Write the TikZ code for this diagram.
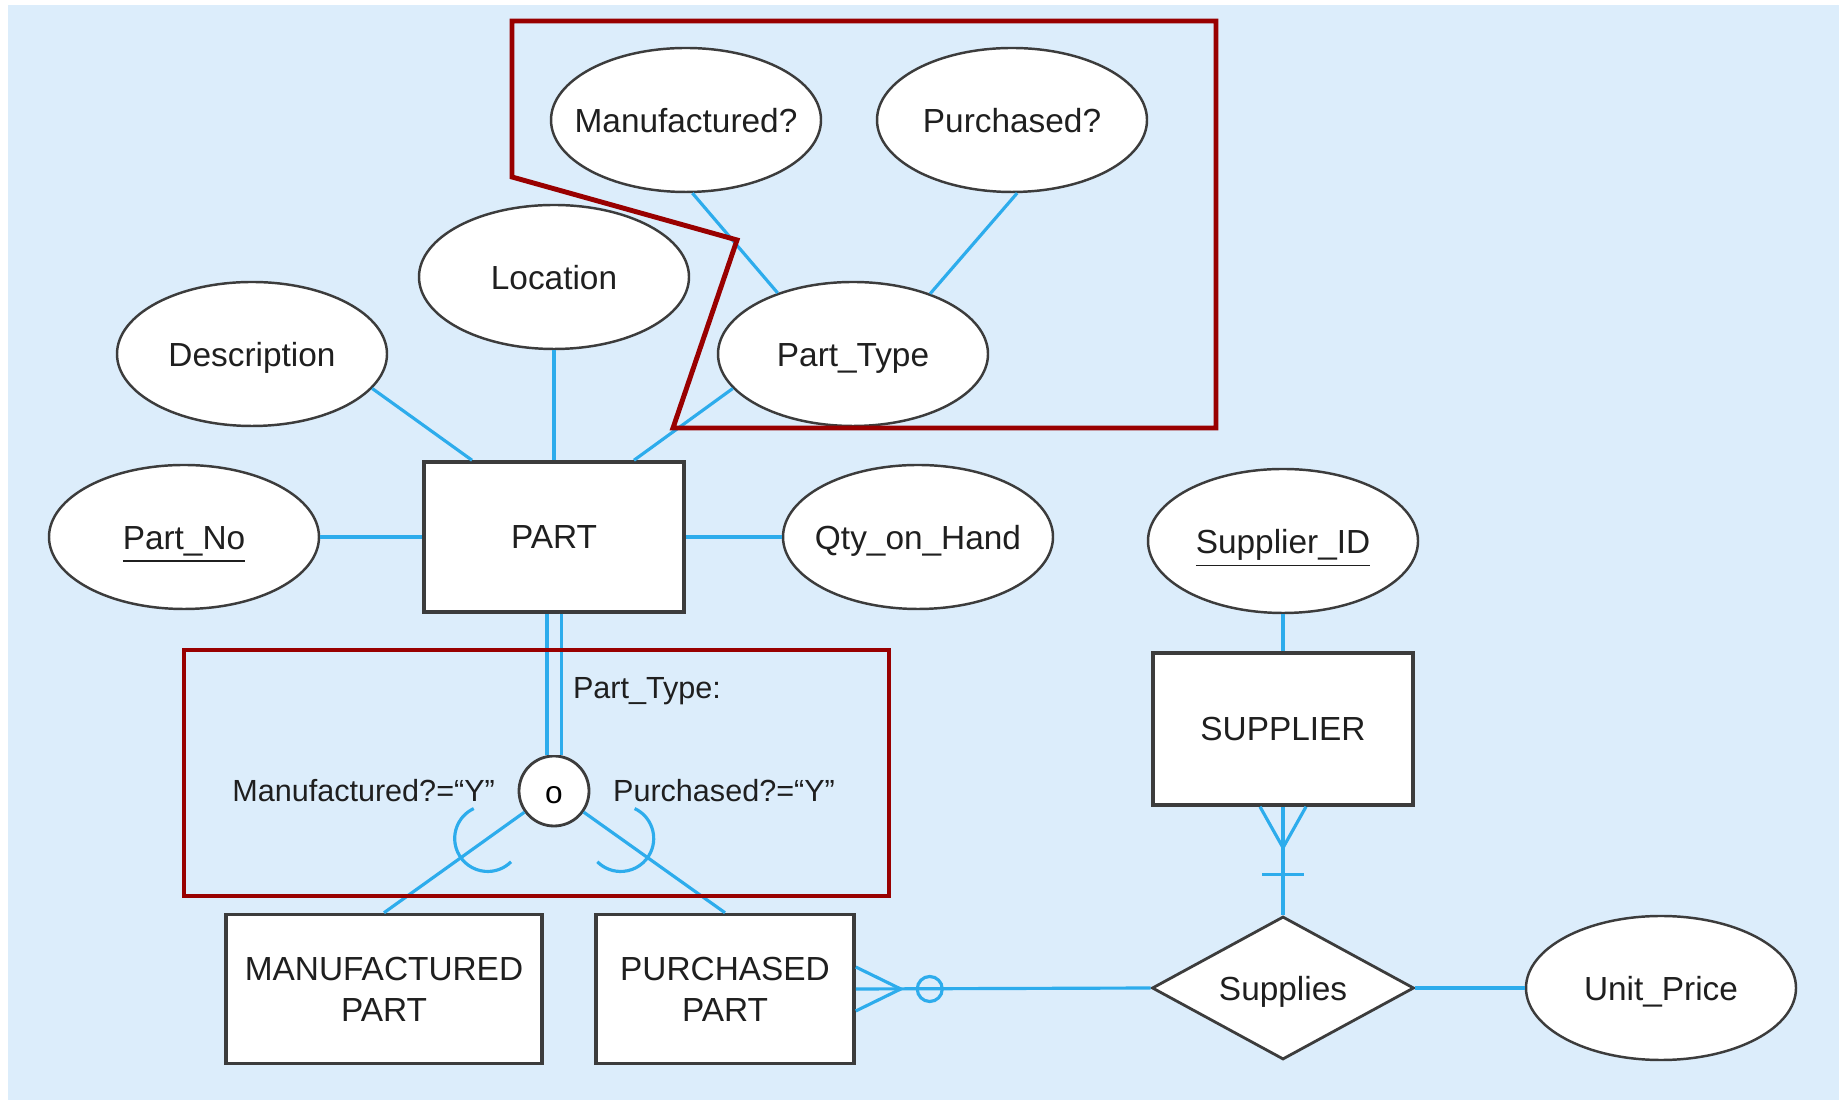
\documentclass[tikz,border=0pt]{standalone}
\usepackage{fontspec}
\setmainfont{Liberation Sans}
\usetikzlibrary{positioning, shapes.geometric, calc}
\definecolor{bgblue}{RGB}{220,237,251}
\definecolor{lnblue}{RGB}{45,172,236}
\definecolor{frred}{RGB}{153,0,0}
\definecolor{edgegray}{RGB}{60,60,60}

\begin{document}
\begin{tikzpicture}[
  attr/.style={ellipse, draw=edgegray, line width=0.7pt, fill=white, minimum width=2.7cm, minimum height=1.44cm, inner ysep=0pt, inner xsep=-0.3cm, text height=0.72em, text depth=0pt, text=black!88, font=\fontsize{9.5}{11.6}\selectfont},
  entity/.style={rectangle, draw=edgegray, line width=1pt, fill=white, minimum width=2.6cm, minimum height=1.5cm, align=center, text=black!88, font=\fontsize{9.5}{11.6}\selectfont},
  rel/.style={diamond, aspect=1.8, draw=edgegray, line width=0.8pt, fill=white, minimum width=2.62cm, minimum height=1.43cm, inner sep=0pt, text height=0.72em, text depth=0pt, text=black!88, font=\fontsize{9.5}{11.6}\selectfont},
  subc/.style={circle, draw=edgegray, line width=0.8pt, fill=white, minimum size=0.7cm, inner sep=0pt, text height=0.72em, text depth=0pt, font=\fontsize{9}{10}\selectfont},
  lbl/.style={inner sep=0pt, text=black!88, font=\fontsize{8.7}{10}\selectfont},
  conn/.style={lnblue, line width=0.9pt},
  frame/.style={draw=frred, line width=1.4pt},
  node distance=0.22cm
]
\useasboundingbox (0,0) rectangle (18.39,-11.04);
\fill[bgblue] (0.08,-0.05) rectangle (18.39,-11.00);

\node[attr] (manf)   at (6.86,-1.20) {Manufactured?};
\node[attr] (purch)  at (10.12,-1.20) {Purchased?};
\node[attr] (loc)    at (5.54,-2.77) {Location};
\node[attr] (desc)   at (2.52,-3.54) {Description};
\node[attr] (ptype)  at (8.53,-3.54) {Part\_Type};
\node[attr] (pno)    at (1.84,-5.37) {\underline{Part\_No}};
\node[entity] (part) at (5.54,-5.37) {PART};
\node[attr] (qty)    at (9.18,-5.37) {Qty\_on\_Hand};
\node[attr] (sid)    at (12.83,-5.41) {\underline{Supplier\_ID}};
\node[entity, minimum height=1.52cm] (supplier) at (12.83,-7.29) {SUPPLIER};

\node[subc] (sub) at (5.54,-7.91) {o};
\node[lbl, left=of sub]  (mlbl) {Manufactured?=“Y”};
\node[lbl, right=of sub] (plbl) {Purchased?=“Y”};
\node[lbl] (tlbl) at (6.47,-6.91) {Part\_Type:};

\node[entity, minimum width=3.16cm, minimum height=1.49cm] (mfg) at (3.84,-9.89) {MANUFACTURED\\PART};
\node[entity, minimum width=2.58cm, minimum height=1.49cm] (pur) at (7.25,-9.89) {PURCHASED\\PART};
\node[rel] (supplies) at (12.83,-9.88) {Supplies};
\node[attr] (uprice) at (16.61,-9.88) {Unit\_Price};

\draw[conn] (manf.-85) -- (ptype.141);
\draw[conn] (purch.-86) -- (ptype.38);
\draw[conn] (desc.-16) -- ([xshift=-0.82cm]part.north);
\draw[conn] (loc) -- (part);
\draw[conn] (ptype.196) -- ([xshift=0.80cm]part.north);
\draw[conn] (pno) -- (part);
\draw[conn] (part) -- (qty);
\draw[conn] (sid) -- (supplier);

\draw[conn, double=bgblue, double distance=0.11cm] (part.south) -- (sub.north);
\draw[conn] (sub) -- (mfg.north);
\draw[conn] (sub) -- (pur.north);
\draw[conn] ($(sub)!0.39!(mfg.north)$) ++(115:0.33) arc[start angle=115, end angle=315, radius=0.33cm];
\draw[conn] ($(sub)!0.39!(pur.north)$) ++(65:0.33) arc[start angle=65, end angle=-135, radius=0.33cm];

\draw[conn] (supplier) -- (supplies);
\draw[conn] ([xshift=-0.23cm]supplier.south) -- ([yshift=-0.41cm]supplier.south) -- ([xshift=0.23cm]supplier.south);
\draw[conn] ([xshift=-0.21cm, yshift=-0.68cm]supplier.south) -- ++(0.42,0);

\draw[conn] (pur.east) -- (supplies.west);
\draw[conn] ([yshift=0.22cm]pur.east) -- ([xshift=0.45cm]pur.east) -- ([yshift=-0.22cm]pur.east);
\draw[conn] ([xshift=0.74cm]pur.east) circle[radius=0.125cm];
\draw[conn] (supplies) -- (uprice);

\draw[frame] (5.12,-0.21) -- (12.16,-0.21) -- (12.16,-4.28) -- (6.73,-4.28) -- (7.37,-2.40) -- (5.12,-1.77) -- cycle;
\draw[frame] (1.84,-6.50) rectangle (8.89,-8.96);
\end{tikzpicture}
\end{document}
